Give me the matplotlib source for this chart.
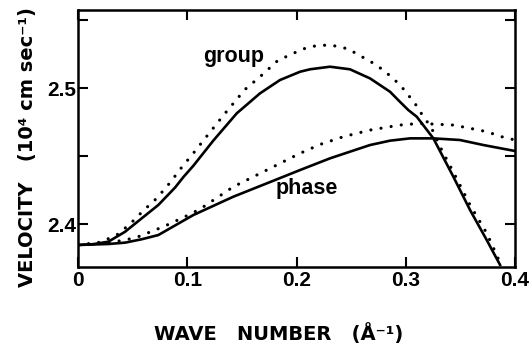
import matplotlib.pyplot as plt

plt.rcParams['font.family'] = 'Liberation Sans'
plt.rcParams['font.weight'] = 'bold'

# wave number (1/A) and velocity (1e4 cm/s)
k_group = [0, 0.0137, 0.0275, 0.0428, 0.0581, 0.0733, 0.0886, 0.0962, 0.1053, 0.1237, 0.1451,
           0.1664, 0.1847, 0.2031, 0.2122, 0.2305, 0.2488, 0.2672, 0.2855, 0.2946, 0.3023,
           0.3100, 0.3252, 0.3435, 0.3588, 0.3741, 0.3863]
v_group = [2.3846, 2.3852, 2.3870, 2.3943, 2.4042, 2.4140, 2.4268, 2.4345, 2.4428, 2.4614, 2.4814,
           2.4961, 2.5059, 2.5120, 2.5138, 2.5157, 2.5138, 2.5071, 2.4973, 2.4899, 2.4838,
           2.4789, 2.4630, 2.4348, 2.4103, 2.3882, 2.3699]

k_group_dot = [0, 0.0200, 0.0352, 0.0474, 0.0595, 0.0718, 0.0840, 0.0947, 0.1053, 0.1161, 0.1344,
               0.1527, 0.1664, 0.1832, 0.1939, 0.2031, 0.2122, 0.2214, 0.2305, 0.2391, 0.2482,
               0.2565, 0.2656, 0.2727, 0.2803, 0.2864, 0.2931, 0.2992, 0.3100, 0.3145, 0.3206,
               0.3252, 0.3329, 0.3435, 0.3588, 0.3741, 0.3832, 0.3863]
v_group_dot = [2.3846, 2.3866, 2.3919, 2.4000, 2.4098, 2.4189, 2.4304, 2.4417, 2.4520, 2.4630, 2.4814,
               2.4990, 2.5083, 2.5206, 2.5243, 2.5279, 2.5304, 2.5314, 2.5316, 2.5304, 2.5285,
               2.5243, 2.5206, 2.5169, 2.5127, 2.5083, 2.5035, 2.4980, 2.4868, 2.4809, 2.4740,
               2.4679, 2.4544, 2.4382, 2.4140, 2.3932, 2.3772, 2.3711]

k_phase = [0, 0.0275, 0.0428, 0.0581, 0.0733, 0.1053, 0.1420, 0.1726, 0.2031, 0.2305, 0.2488,
           0.2672, 0.2855, 0.3038, 0.3252, 0.3495, 0.3710, 0.4]
v_phase = [2.3846, 2.3853, 2.3863, 2.3888, 2.3919, 2.4066, 2.4201, 2.4299, 2.4397, 2.4483, 2.4532,
           2.4581, 2.4613, 2.4630, 2.4630, 2.4618, 2.4581, 2.4537]

k_phase_dot = [0, 0.0250, 0.0428, 0.0550, 0.0779, 0.0977, 0.1115, 0.1420, 0.1726, 0.2031, 0.2214,
               0.2427, 0.2672, 0.2946, 0.3129, 0.3252, 0.3435, 0.3588, 0.3741, 0.3878, 0.4]
v_phase_dot = [2.3846, 2.3860, 2.3882, 2.3907, 2.3980, 2.4054, 2.4110, 2.4274, 2.4397, 2.4520, 2.4585,
               2.4642, 2.4691, 2.4728, 2.4740, 2.4735, 2.4728, 2.4704, 2.4679, 2.4642, 2.4618]

x_ticks = [0, 0.1, 0.2, 0.3, 0.4]
x_labels = ['0', '0.1', '0.2', '0.3', '0.4']
y_ticks = [2.4, 2.45, 2.5, 2.55]
y_labels = ['2.4', '', '2.5', '']

fig = plt.figure(figsize=(5.32, 3.43), dpi=100)
ax = fig.add_axes([0.1472, 0.2224, 0.8209, 0.7484])

dots = (0, (0.01, 3.2))
ax.plot(k_group, v_group, color='black', lw=1.9)
ax.plot(k_phase, v_phase, color='black', lw=1.9)
ax.plot(k_group_dot, v_group_dot, color='black', lw=2.3, linestyle=dots, dash_capstyle='round')
ax.plot(k_phase_dot, v_phase_dot, color='black', lw=2.3, linestyle=dots, dash_capstyle='round')

ax.text(0.1420, 2.5193, 'group', fontsize=15.5, ha='center', va='baseline')
ax.text(0.2092, 2.4221, 'phase', fontsize=15.5, ha='center', va='baseline')

ax.set_xlim(0, 0.4)
ax.set_ylim(2.3686, 2.5574)
ax.set_xticks(x_ticks)
ax.set_xticklabels(x_labels)
ax.set_yticks(y_ticks)
ax.set_yticklabels(y_labels)
ax.tick_params(direction='in', top=True, right=True, length=7.5, width=1.5, labelsize=15)
ax.tick_params(axis='x', pad=3.0)
ax.tick_params(axis='y', pad=1.5)
for s in ax.spines.values():
    s.set_linewidth(1.8)

fig.text(0.5245, 0.0087, 'WAVE   NUMBER   (Å⁻¹)', family='DejaVu Sans', fontweight='bold',
         fontsize=14, ha='center', va='baseline')
fig.text(0.052, 0.57, 'VELOCITY   (10⁴ cm sec⁻¹)', family='DejaVu Sans', fontweight='bold',
         fontsize=14, ha='center', va='center', rotation=90)

plt.savefig('out.png', dpi=100)
